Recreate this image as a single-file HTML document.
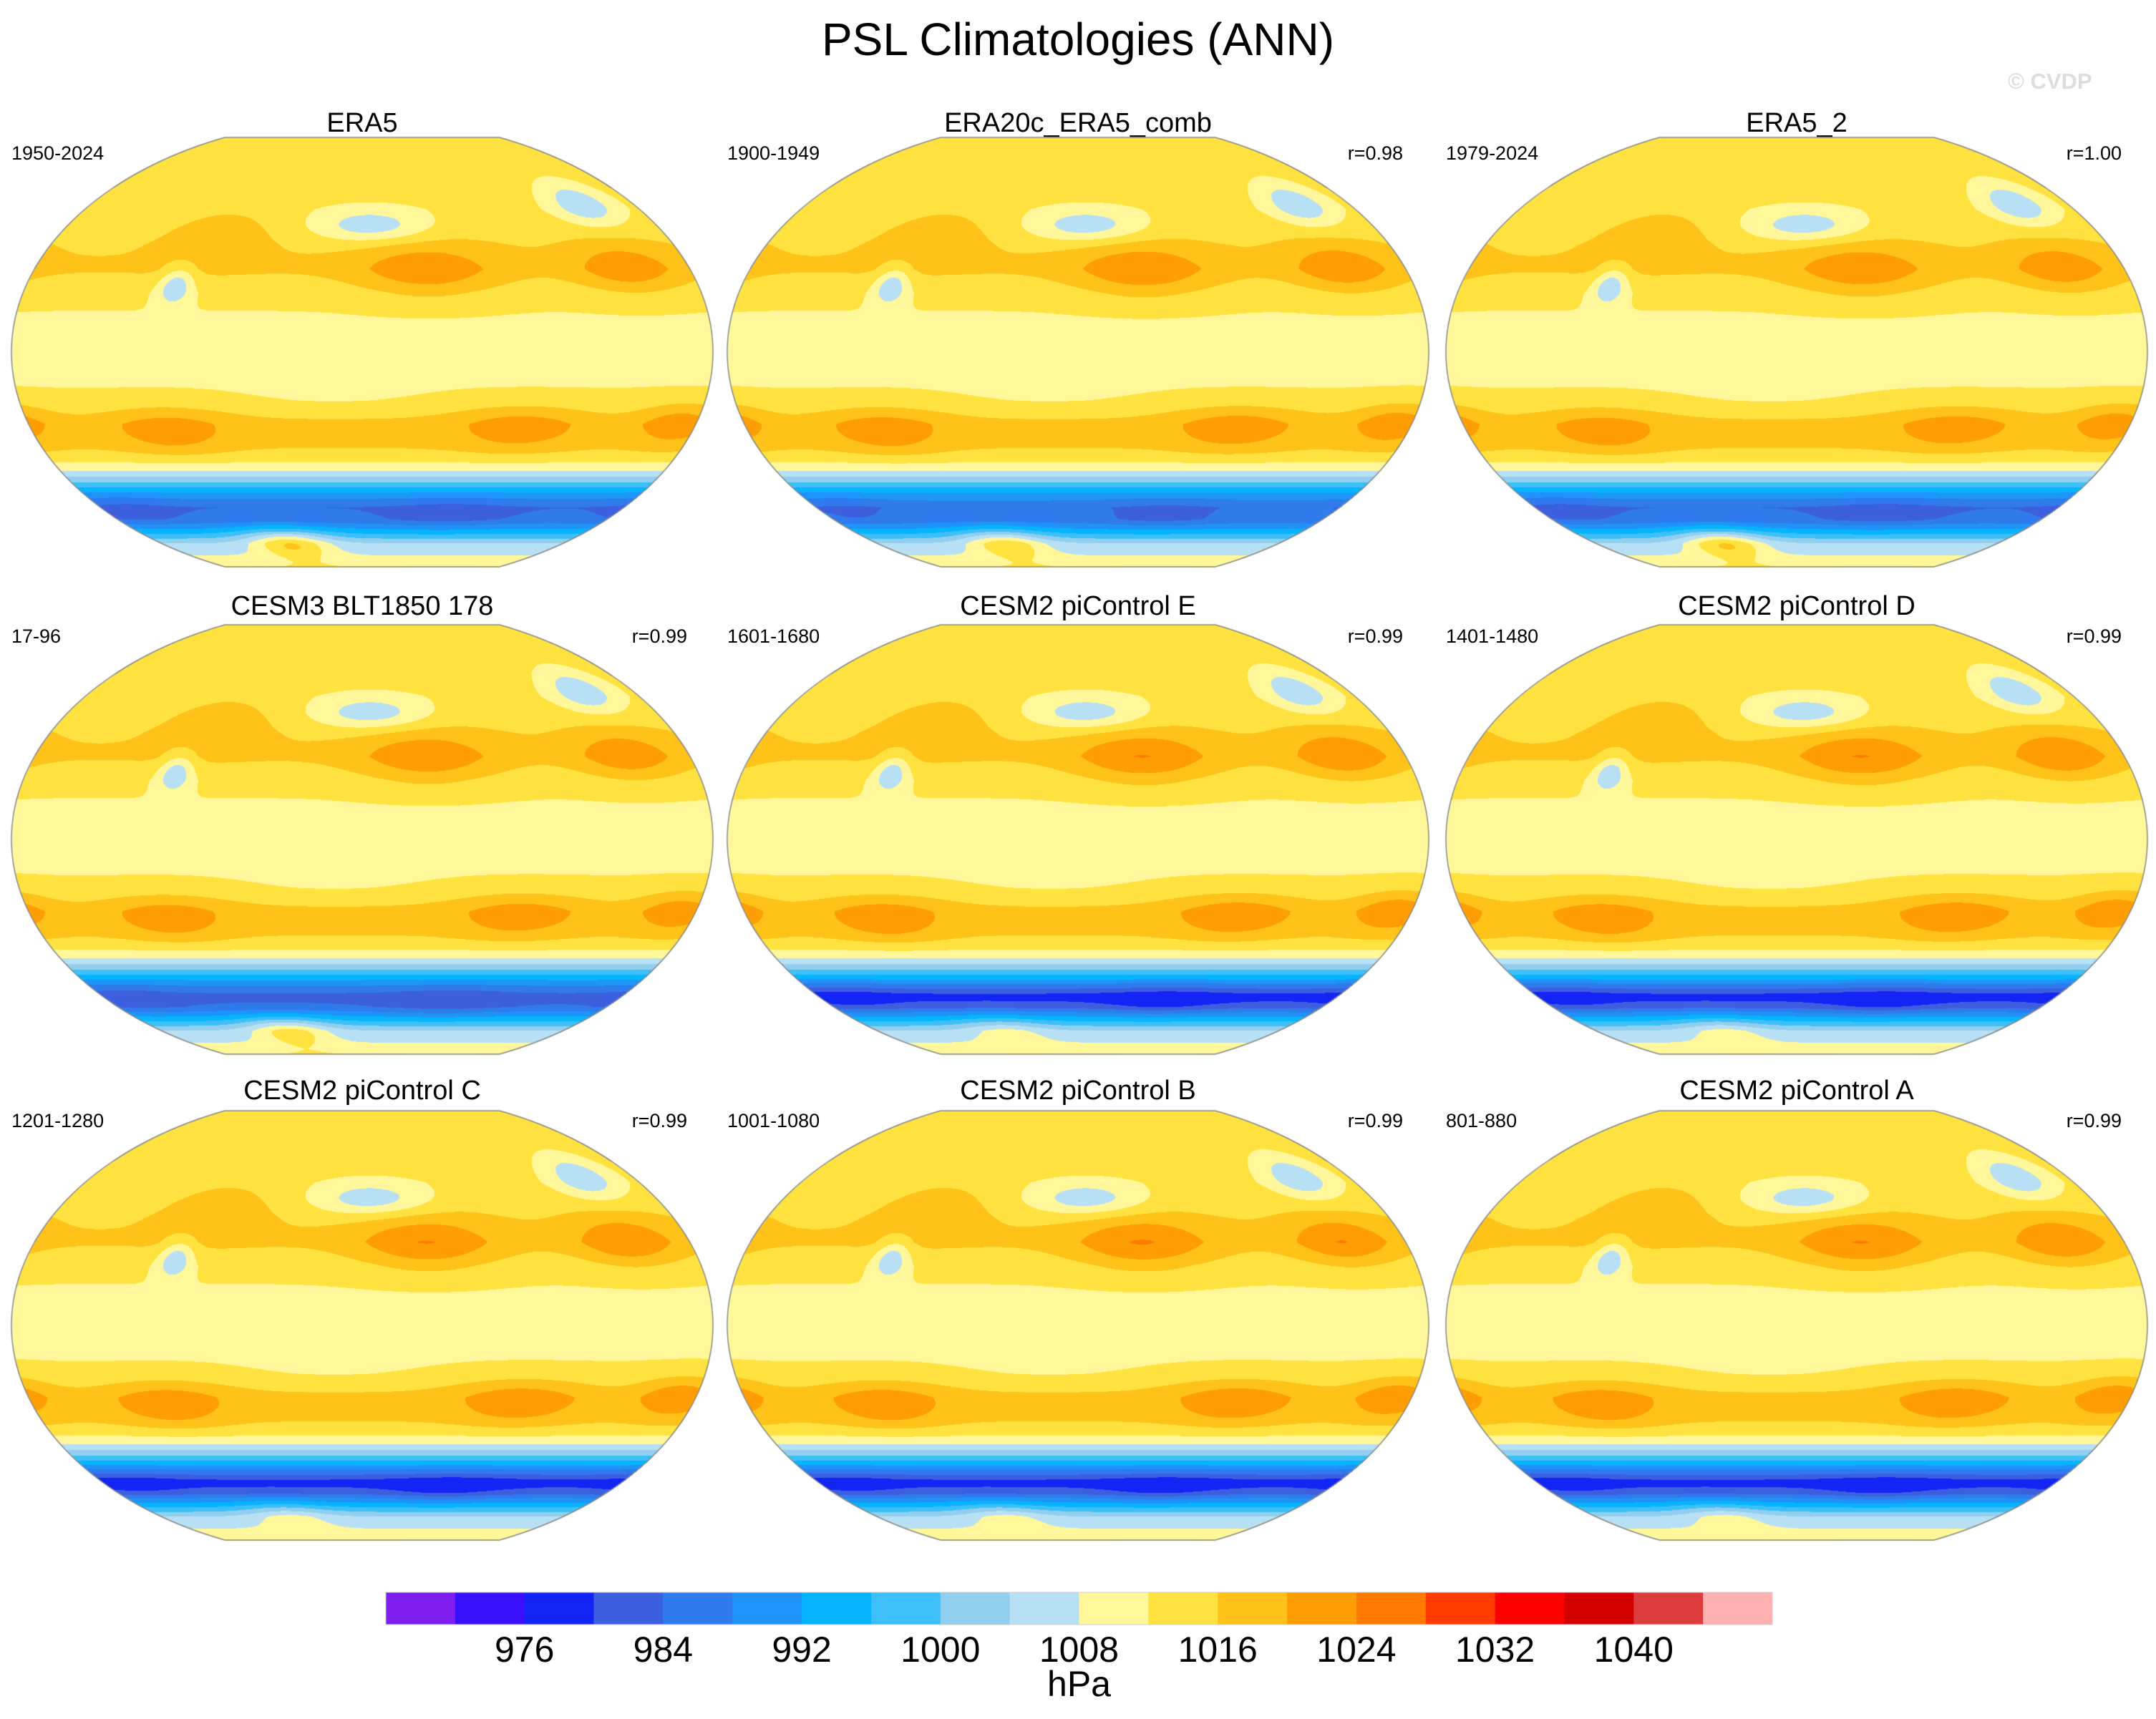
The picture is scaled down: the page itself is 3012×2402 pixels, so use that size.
<!DOCTYPE html>
<html><head><meta charset="utf-8"><style>
html,body{margin:0;padding:0;background:#fff}
#root{position:relative;width:3012px;height:2402px;background:#fff;font-family:"Liberation Sans",sans-serif;color:#000;overflow:hidden}
.t{position:absolute;white-space:nowrap}
canvas{position:absolute}
</style></head><body>
<div id="root">
<div class="t" style="left:0;width:3012px;text-align:center;top:18px;font-size:64px">PSL Climatologies (ANN)</div>
<div class="t" style="left:2805px;top:96px;font-size:31px;font-weight:bold;color:#ddd">© CVDP</div>
<svg id="cb" width="3012" height="2402" style="position:absolute;left:0;top:0"></svg>
</div>
<script>
const colors=["#7f1fef","#3a0ffb","#1225f5","#3c5fe0","#2f7bed","#1e94fb","#05b4fd","#3dc0f9","#92cfee","#b8e0f5","#fff79a","#ffe240","#fec218","#ff9d04","#ff7a00","#ff3b00","#fc0000","#d40000","#dc3c3c","#ffb0b0"];
const tickLabels=["976","984","992","1000","1008","1016","1024","1032","1040"];
const titles=["ERA5","ERA20c_ERA5_comb","ERA5_2","CESM3 BLT1850 178","CESM2 piControl E","CESM2 piControl D","CESM2 piControl C","CESM2 piControl B","CESM2 piControl A"];
const periods=["1950-2024","1900-1949","1979-2024","17-96","1601-1680","1401-1480","1201-1280","1001-1080","801-880"];
const rvals=["","r=0.98","r=1.00","r=0.99","r=0.99","r=0.99","r=0.99","r=0.99","r=0.99"];
const zonalLat=[90,75,60,45,35,25,10,0,-10,-20,-30,-40,-45,-50,-55,-60,-65,-70,-75,-80,-90];
const zonalPsl=[1013,1013.5,1013,1015.5,1016.5,1013,1011,1010.5,1011,1013,1017,1016,1013,1007.5,999,990,984,985,994,1004,1012];
// blobs: lon, lat, amplitude, lon-width, lat-width
const blobs=[[215,34,7,38,12],[325,35,6.8,28,11],[265,-32,6,34,9],[350,-30,6,22,9],[75,-33,6,32,9],[185,53,-8.5,35,7],[325,62,-8.5,20,9],[95,50,4,30,12],[80,28,-9,9,8],[115,-80,12,35,6],[240,-68,-3,40,6],[20,-66,-2,30,6],[165,-12,-2.5,40,10]];
// per-panel: high scale, antarctic trough shift, plateau scale
const panelHigh=[1,1.05,1,1,1.1,1.1,1.1,1.12,1.1];
const panelTrough=[0,1,0,-1,-5,-5,-5,-5,-5];
const panelPlateau=[1,0.9,1,0.8,0.45,0.45,0.45,0.45,0.45];
const root=document.getElementById('root');
const colX=[506,1506,2510],rowY=[492,1173,1852],titleY=[173,848,1525];
const A=490,B=326,H=300;
function zonal(lat){for(let i=0;i<zonalLat.length-1;i++){if(lat<=zonalLat[i]&&lat>=zonalLat[i+1]){const t=(zonalLat[i]-lat)/(zonalLat[i]-zonalLat[i+1]);return zonalPsl[i]+t*(zonalPsl[i+1]-zonalPsl[i]);}}return 1012;}
function field(lon,lat,p){let v=zonal(lat);
 if(lat<-50&&lat>-76)v+=panelTrough[p]*Math.exp(-Math.pow((lat+66)/5,2));
 for(let k=0;k<blobs.length;k++){const b=blobs[k];let d=lon-b[0];d=((d+540)%360)-180;let amp=b[2];
  if(amp>0&&k<5)amp*=panelHigh[p];if(k==9)amp*=panelPlateau[p];
  v+=amp*Math.exp(-(d*d)/(b[3]*b[3])-Math.pow((lat-b[1])/b[4],2));}
 return v;}
function idx(v){return Math.max(0,Math.min(19,Math.floor((v-972)/4)+1));}
const rgb=colors.map(c=>[parseInt(c.substr(1,2),16),parseInt(c.substr(3,2),16),parseInt(c.substr(5,2),16)]);
for(let p=0;p<9;p++){
 const cx=colX[p%3],cy=rowY[Math.floor(p/3)];
 const t=document.createElement('div');t.className='t';
 
 
 t.style.cssText=`left:${cx-500}px;width:1000px;text-align:center;top:${titleY[Math.floor(p/3)]-22}px;font-size:38px`;t.textContent=titles[p];root.appendChild(t);
 const pl=document.createElement('div');pl.className='t';
 
 
 pl.style.cssText=`left:${cx-490}px;top:${titleY[Math.floor(p/3)]+26}px;font-size:27px`;pl.textContent=periods[p];root.appendChild(pl);
 if(rvals[p]){const r=document.createElement('div');r.className='t';
  
  
  r.style.cssText=`left:${cx-500}px;width:954px;text-align:right;top:${titleY[Math.floor(p/3)]+26}px;font-size:27px`;r.textContent=rvals[p];root.appendChild(r);}
 const cv=document.createElement('canvas');cv.width=1000;cv.height=620;
 
 
 cv.style.left=(cx-500)+'px';cv.style.top=(cy-310)+'px';root.appendChild(cv);
 const ctx=cv.getContext('2d');const img=ctx.createImageData(1000,620);const d=img.data;
 for(let py=0;py<620;py++){const y=py-310;if(Math.abs(y)>H)continue;const hw=A*Math.sqrt(1-(y/B)*(y/B));const lat=-y/H*90;
  for(let px=0;px<1000;px++){const x=px-500;if(Math.abs(x)>hw)continue;const lon=180+x/hw*180;
   const c=rgb[idx(field(lon,lat,p))];const o=(py*1000+px)*4;d[o]=c[0];d[o+1]=c[1];d[o+2]=c[2];d[o+3]=255;}}
 ctx.putImageData(img,0,0);
 ctx.strokeStyle='#888';ctx.lineWidth=1.5;ctx.beginPath();
 for(let y=-H;y<=H;y+=2){const hw=A*Math.sqrt(1-(y/B)*(y/B));if(y==-H)ctx.moveTo(500+hw,310+y);else ctx.lineTo(500+hw,310+y);}
 for(let y=H;y>=-H;y-=2){const hw=A*Math.sqrt(1-(y/B)*(y/B));ctx.lineTo(500-hw,310+y);}
 ctx.closePath();ctx.stroke();
}
const svg=document.getElementById('cb');const ns='http://www.w3.org/2000/svg';
const x0=539,x1=2476,bw=(x1-x0)/colors.length;
for(let i=0;i<colors.length;i++){const r=document.createElementNS(ns,'rect');
 
 
 r.setAttribute('x',x0+i*bw);r.setAttribute('y',2225);r.setAttribute('width',bw+0.5);r.setAttribute('height',45);r.setAttribute('fill',colors[i]);svg.appendChild(r);}
const fr=document.createElementNS(ns,'rect');fr.setAttribute('x',x0);fr.setAttribute('y',2225);fr.setAttribute('width',x1-x0);fr.setAttribute('height',45);fr.setAttribute('fill','none');fr.setAttribute('stroke','#ccc');svg.appendChild(fr);
for(let i=0;i<tickLabels.length;i++){const tx=document.createElementNS(ns,'text');
 
 
 tx.setAttribute('x',x0+(2+2*i)*bw);tx.setAttribute('y',2322);tx.setAttribute('text-anchor','middle');tx.setAttribute('font-size','50');tx.setAttribute('font-family','Liberation Sans, sans-serif');tx.textContent=tickLabels[i];svg.appendChild(tx);}
const u=document.createElementNS(ns,'text');


u.setAttribute('x',x0+10*bw);u.setAttribute('y',2370);u.setAttribute('text-anchor','middle');u.setAttribute('font-size','50');u.setAttribute('font-family','Liberation Sans, sans-serif');u.textContent='hPa';svg.appendChild(u);
</script>
</body></html>
